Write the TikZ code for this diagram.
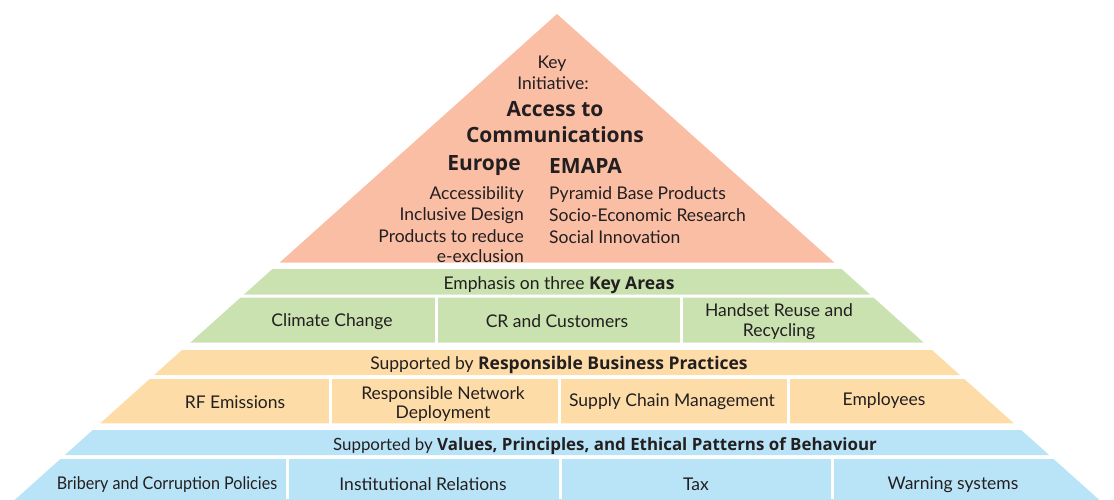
\documentclass[tikz,border=0pt]{standalone}
\usepackage{fontspec}
\setmainfont{Lato}
\newfontfamily\heavyface{Open Sans}
\newcommand\kw[1]{{\heavyface\bfseries #1}}
\definecolor{topfill}{RGB}{250,190,165}
\definecolor{greenfill}{RGB}{201,226,176}
\definecolor{orangefill}{RGB}{253,220,168}
\definecolor{bluefill}{RGB}{185,228,248}
\definecolor{ink}{RGB}{35,31,32}
% left/right edge of the pyramid at height #1 (apex at 557,14)
\newcommand\lx[1]{{557-(#1-14)*1.116}}
\newcommand\rx[1]{{557+(#1-14)*1.116}}
% trapezoid band between heights #2 and #3
\newcommand\band[3]{\fill[#1] (\lx{#2},#2) -- (\rx{#2},#2) -- (\rx{#3},#3) -- (\lx{#3},#3) -- cycle;}
\begin{document}
\begin{tikzpicture}[x=1pt,y=-1pt,
  txt/.style={text=ink,font=\fontsize{17.5}{19.5}\selectfont,inner sep=0pt,yshift=-1.5pt},
  small/.style={text=ink,font=\fontsize{16.9}{19}\selectfont,inner sep=0pt,yshift=-1.5pt},
  big/.style={text=ink,font=\fontsize{21}{25}\selectfont\heavyface\bfseries,inner sep=0pt,yshift=-1.5pt},
  divider/.style={white,line width=3pt}]
\useasboundingbox (0,0) rectangle (1114,499);
% apex triangle
\fill[topfill] (557,14) -- (\rx{262.7},262.7) -- (\lx{262.7},262.7) -- cycle;
% bands
\band{greenfill}{269}{294.5}
\band{greenfill}{297.7}{342.7}
\band{orangefill}{350}{375}
\band{orangefill}{379}{423.3}
\band{bluefill}{430}{455}
\band{bluefill}{459}{505}
% cell dividers
\draw[divider] (436,297) -- (436,343);
\draw[divider] (681,297) -- (681,343);
\draw[divider] (330,378) -- (330,424);
\draw[divider] (559,378) -- (559,424);
\draw[divider] (788,378) -- (788,424);
\draw[divider] (287,458) -- (287,499);
\draw[divider] (560,458) -- (560,499);
\draw[divider] (832,458) -- (832,499);
% apex text
\node[txt] (key) at (552,62) {Key};
\node[txt] (ini) at (553,82) {Initiative:};
\node[big] (acc) at (555,108) {Access to};
\node[big] (com) at (555,133) {Communications};
\node[big] (eur) at (484,164) {Europe};
\node[big,anchor=west] (ema) at (549,164) {EMAPA};
\node[txt,anchor=east] (e1) at (524,193) {Accessibility};
\node[txt,anchor=east] (e2) at (524,214) {Inclusive Design};
\node[txt,anchor=north east,align=right] (e3) at (524,228) {Products to reduce\\e-exclusion};
\node[txt,anchor=west] (m1) at (549,193) {Pyramid Base Products};
\node[txt,anchor=west] (m2) at (549,214) {Socio-Economic Research};
\node[txt,anchor=west] (m3) at (549,236) {Social Innovation};
% green tier
\node[txt] (gh) at (559,284) {Emphasis on three\ \kw{Key Areas}};
\node[txt] (g1) at (332,320) {Climate Change};
\node[txt] (g2) at (557,320) {CR and Customers};
\node[txt,align=center] (g3) at (779,320) {Handset Reuse and\\Recycling};
% orange tier
\node[txt] (oh) at (559,363) {Supported by\ \kw{Responsible Business Practices}};
\node[txt] (o1) at (235,401) {RF Emissions};
\node[txt,align=center] (o2) at (443,402.5) {Responsible Network\\Deployment};
\node[txt] (o3) at (672,400) {Supply Chain Management};
\node[txt] (o4) at (884,399) {Employees};
% blue tier
\node[small] (bh) at (605,445) {Supported by\ \kw{Values, Principles, and Ethical Patterns of Behaviour}};
\node[txt] (b1) at (167,483) {\scalebox{0.92}[1]{Bribery and Corruption Policies}};
\node[txt] (b2) at (423,483) {Institutional Relations};
\node[txt] (b3) at (696,483) {Tax};
\node[txt] (b4) at (953,483) {Warning systems};
\end{tikzpicture}
\end{document}
